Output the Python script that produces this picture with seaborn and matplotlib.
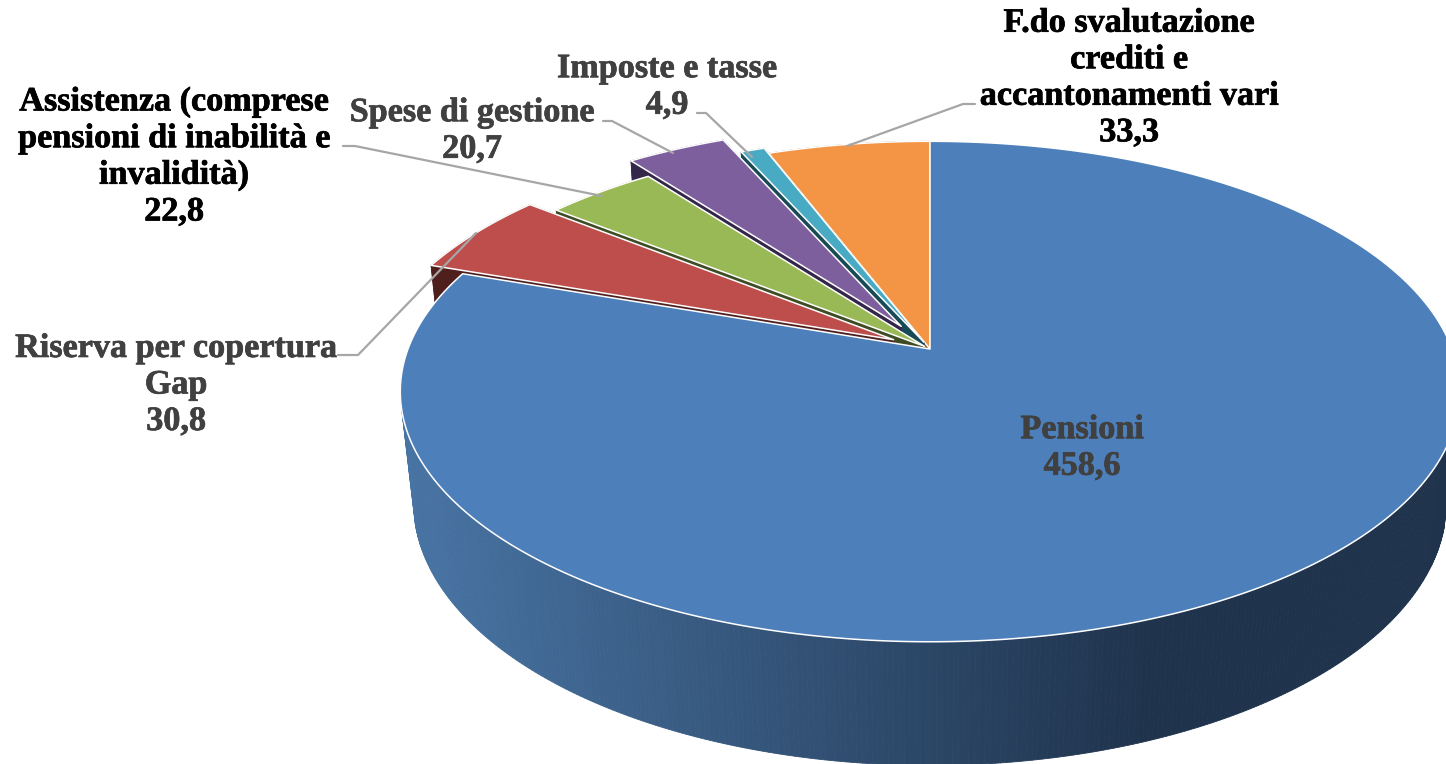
import matplotlib
matplotlib.use("Agg")
import matplotlib.pyplot as plt
import matplotlib.patheffects as pe
import numpy as np
import seaborn as sns

categories = ["Pensioni", "Riserva per copertura\nGap",
              "Assistenza (comprese\npensioni di inabilità e\ninvalidità)",
              "Spese di gestione", "Imposte e tasse",
              "F.do svalutazione\ncrediti e\naccantonamenti vari"]
values = [458.6, 30.8, 22.8, 20.7, 4.9, 33.3]
explode = [0.0, 0.08, 0.015, 0.11, 0.03, 0.0]
top_colors = ["#4d7fba", "#bd4e4b", "#99b957", "#7e5f9d", "#48aac3", "#f49445"]
side_colors = ["#1f3349", "#4f1f1e", "#3e4c24", "#33264a", "#184a56", "#8a4f1e"]
text_colors = ["#404040", "#404040", "#000000", "#404040", "#404040", "#000000"]
label_pos = [(1082, 448), (176, 385), (174, 157), (472, 131), (667, 87), (1129, 78)]
leaders = [None,
           [(338, 355), (358, 355), (476, 233)],
           [(343, 146), (355, 146), (602, 196)],
           [(603, 121), (612, 121), (673, 153)],
           [(697, 113), (706, 113), (752, 157)],
           [(975, 104), (963, 104), (847, 146)]]

# perspective of the disc, in pixels of the output
CX, CY = 930, 349
A, B = 522, 243
K = 0.17      # foreshortening front/back
DEPTH = 113
SHRINK = 0.025  # lower face sits a bit further away


def project(u, v, low=False):
    s = 1 / (1 - K * v + (SHRINK if low else 0))
    return CX + A * u * s, CY + (B * v + (DEPTH if low else 0)) * s


def outline(start, stop, d):
    # slice outline, angles in degrees clockwise from 12 o'clock
    mid = np.radians((start + stop) / 2)
    ox, oy = d * np.sin(mid), -d * np.cos(mid)
    t = np.radians(np.linspace(start, stop, max(int(stop - start) * 2, 8)))
    u = np.r_[ox, ox + np.sin(t), ox]
    v = np.r_[oy, oy - np.cos(t), oy]
    return u, v


def side_shade(x):
    # the rim gets darker going left to right
    f = np.clip((x - 400) / 750, 0, 1)
    light, dark = np.array([72, 116, 164]), np.array([31, 51, 76])
    return (light + (dark - light) * f) / 255


sns.set_theme(style="white")
plt.rcParams["font.family"] = ["Liberation Serif", "DejaVu Serif"]
palette = sns.color_palette(top_colors)

fig, ax = plt.subplots(figsize=(14.46, 7.64), dpi=100)
fig.subplots_adjust(0, 0, 1, 1)
ax.set_xlim(0, 1446)
ax.set_ylim(764, 0)
ax.axis("off")

ends = np.cumsum(values) / np.sum(values) * 360
starts = np.r_[0, ends[:-1]]

# painter's order: back slices first, the big slice last
for i in range(len(values) - 1, -1, -1):
    u, v = outline(starts[i], ends[i], explode[i])
    xt, yt = project(u, v)
    xb, yb = project(u, v, low=True)
    for j in range(len(u) - 1):
        # big slice: only the front part of the rim can be seen
        if i == 0 and (j == 0 or j == len(u) - 2 or v[j] < 0.25):
            continue
        color = side_shade((xt[j] + xt[j + 1]) / 2) if i == 0 else side_colors[i]
        ax.fill([xt[j], xt[j + 1], xb[j + 1], xb[j]],
                [yt[j], yt[j + 1], yb[j + 1], yb[j]],
                color=color, lw=0.6, zorder=2)
    ax.fill(xt, yt, facecolor=palette[i], edgecolor="white", lw=1.1,
            joinstyle="round", zorder=2)

for pts in leaders:
    if pts is not None:
        xs, ys = zip(*pts)
        ax.plot(xs, ys, color="#a6a6a6", lw=1.6, zorder=3)

for i, cat in enumerate(categories):
    label = cat + "\n" + f"{values[i]:.1f}".replace(".", ",")
    ax.text(label_pos[i][0], label_pos[i][1], label, ha="center", va="center",
            multialignment="center", fontsize=24.6, fontweight="bold",
            color=text_colors[i], linespacing=1.23, zorder=4,
            path_effects=[pe.withStroke(linewidth=0.5, foreground=text_colors[i])])

fig.savefig("out.png", dpi=100)
